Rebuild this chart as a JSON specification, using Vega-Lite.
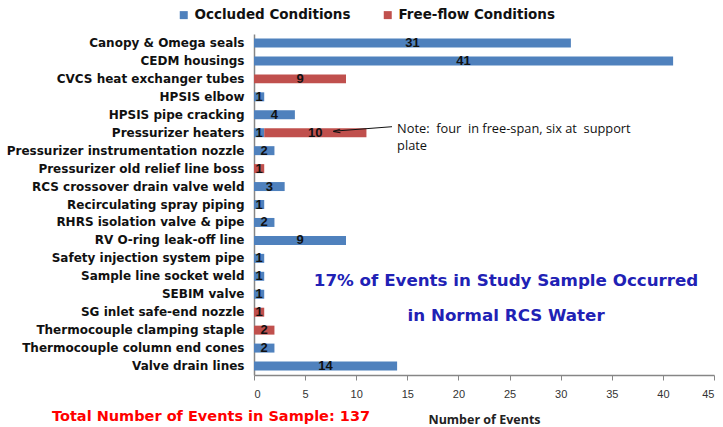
{
  "$schema": "https://vega.github.io/schema/vega-lite/v6.json",
  "autosize": "none",
  "width": 460,
  "height": 341,
  "padding": {"left": 254, "top": 34, "right": 9, "bottom": 52},
  "background": "white",
  "config": {"view": {"stroke": null}},
  "title": {
    "text": "Total Number of Events in Sample: 137",
    "orient": "bottom",
    "anchor": "start",
    "frame": "group",
    "dx": -202,
    "offset": -16,
    "color": "#FF0000",
    "fontSize": 14.5,
    "font": "DejaVu Sans",
    "fontWeight": "bold"
  },
  "data": {
    "values": [
      {"component": "Canopy  & Omega seals", "series": "Occluded Conditions", "count": 31},
      {"component": "CEDM housings", "series": "Occluded Conditions", "count": 41},
      {"component": "CVCS heat exchanger tubes", "series": "Free-flow Conditions", "count": 9},
      {"component": "HPSIS elbow", "series": "Occluded Conditions", "count": 1},
      {"component": "HPSIS pipe cracking", "series": "Occluded Conditions", "count": 4},
      {"component": "Pressurizer heaters ", "series": "Occluded Conditions", "count": 1},
      {"component": "Pressurizer heaters ", "series": "Free-flow Conditions", "count": 10},
      {"component": "Pressurizer instrumentation nozzle", "series": "Occluded Conditions", "count": 2},
      {"component": "Pressurizer old relief line boss", "series": "Free-flow Conditions", "count": 1},
      {"component": "RCS crossover drain valve weld", "series": "Occluded Conditions", "count": 3},
      {"component": "Recirculating spray piping", "series": "Occluded Conditions", "count": 1},
      {"component": "RHRS isolation valve & pipe", "series": "Occluded Conditions", "count": 2},
      {"component": "RV O-ring leak-off line", "series": "Occluded Conditions", "count": 9},
      {"component": "Safety injection system pipe", "series": "Occluded Conditions", "count": 1},
      {"component": "Sample line socket weld", "series": "Occluded Conditions", "count": 1},
      {"component": "SEBIM valve", "series": "Occluded Conditions", "count": 1},
      {"component": "SG inlet safe-end nozzle", "series": "Free-flow Conditions", "count": 1},
      {"component": "Thermocouple clamping staple ", "series": "Free-flow Conditions", "count": 2},
      {"component": "Thermocouple column end cones", "series": "Occluded Conditions", "count": 2},
      {"component": "Valve drain lines", "series": "Occluded Conditions", "count": 14}
    ]
  },
  "encoding": {
    "y": {
      "field": "component",
      "type": "nominal",
      "sort": null,
      "scale": {"paddingInner": 0.5, "paddingOuter": 0.25},
      "axis": {
        "title": null,
        "ticks": false,
        "labelPadding": 10,
        "labelLimit": 0,
        "labelFont": "DejaVu Sans",
        "labelFontSize": 12,
        "labelFontWeight": "bold",
        "labelColor": "#111111",
        "domainColor": "#868686",
        "domainWidth": 1.5
      }
    }
  },
  "layer": [
    {
      "transform": [
        {"stack": "count", "groupby": ["component"], "sort": [{"field": "series", "order": "descending"}], "as": ["x0", "x1"]}
      ],
      "mark": {"type": "bar"},
      "encoding": {
        "x": {
          "field": "x0",
          "type": "quantitative",
          "scale": {"domain": [0, 45]},
          "axis": {
            "values": [0, 5, 10, 15, 20, 25, 30, 35, 40, 45],
            "grid": false,
            "title": "Number of Events",
            "titleFont": "Open Sans",
            "titleFontSize": 12.5,
            "titleFontWeight": "bold",
            "titleColor": "#222222",
            "titlePadding": 14,
            "labelFont": "Liberation Sans",
            "labelFontSize": 11,
            "labelColor": "#333333",
            "labelPadding": 8,
            "tickSize": 5,
            "tickColor": "#868686",
            "domainColor": "#868686",
            "domainWidth": 1.5
          }
        },
        "x2": {"field": "x1"},
        "color": {
          "field": "series",
          "type": "nominal",
          "scale": {"domain": ["Occluded Conditions", "Free-flow Conditions"], "range": ["#4F81BD", "#C0504D"]},
          "legend": {
            "title": null,
            "orient": "none",
            "direction": "horizontal",
            "legendX": -77,
            "legendY": -26,
            "symbolType": "square",
            "symbolSize": 64,
            "symbolStrokeWidth": 0,
            "labelFont": "DejaVu Sans",
            "labelFontSize": 13.5,
            "labelFontWeight": "bold",
            "labelColor": "#111111",
            "labelOffset": 4,
            "columnPadding": 30,
            "labelLimit": 0
          }
        }
      }
    },
    {
      "transform": [
        {"stack": "count", "groupby": ["component"], "sort": [{"field": "series", "order": "descending"}], "as": ["x0", "x1"]},
        {"calculate": "(datum.x0 + datum.x1) / 2", "as": "mid"}
      ],
      "mark": {"type": "text", "font": "Liberation Sans", "fontSize": 13, "fontWeight": "bold", "color": "#111111", "baseline": "middle"},
      "encoding": {
        "x": {"field": "mid", "type": "quantitative"},
        "text": {"field": "count", "type": "quantitative"}
      }
    },
    {
      "data": {"values": [{}]},
      "mark": {"type": "text", "font": "DejaVu Sans", "fontSize": 16.7, "fontWeight": "bold", "color": "#2121B5", "align": "center", "baseline": "middle", "yOffset": 5},
      "encoding": {
        "x": {"datum": 24.66},
        "y": {"datum": "Sample line socket weld"},
        "text": {"value": "17% of Events in Study Sample Occurred"}
      }
    },
    {
      "data": {"values": [{}]},
      "mark": {"type": "text", "font": "DejaVu Sans", "fontSize": 16.7, "fontWeight": "bold", "color": "#2121B5", "align": "center", "baseline": "middle", "yOffset": 4},
      "encoding": {
        "x": {"datum": 24.66},
        "y": {"datum": "SG inlet safe-end nozzle"},
        "text": {"value": "in Normal RCS Water"}
      }
    },
    {
      "data": {"values": [{}]},
      "mark": {"type": "text", "font": "Open Sans", "fontSize": 12.8, "color": "#111111", "align": "left", "baseline": "top", "yOffset": -10, "lineHeight": 17},
      "encoding": {
        "x": {"datum": 14.0},
        "y": {"datum": "Pressurizer heaters "},
        "text": {"value": ["Note:\u00a0 four\u00a0 in free-span, six at\u00a0 support", "plate"]}
      }
    },
    {
      "data": {"values": [{}]},
      "mark": {"type": "rule", "color": "#111111", "strokeWidth": 1, "yOffset": -6, "y2Offset": -1.5},
      "encoding": {
        "x": {"datum": 13.5},
        "x2": {"datum": 7.75},
        "y": {"datum": "Pressurizer heaters "},
        "y2": {"datum": "Pressurizer heaters "}
      }
    },
    {
      "data": {"values": [{}]},
      "mark": {"type": "point", "shape": "M-1,0L1,-0.5M-1,0L1,0.5", "filled": false, "color": "#111111", "strokeWidth": 1, "size": 50, "angle": -5, "yOffset": -1.5, "opacity": 1},
      "encoding": {
        "x": {"datum": 8.1},
        "y": {"datum": "Pressurizer heaters "}
      }
    }
  ]
}
